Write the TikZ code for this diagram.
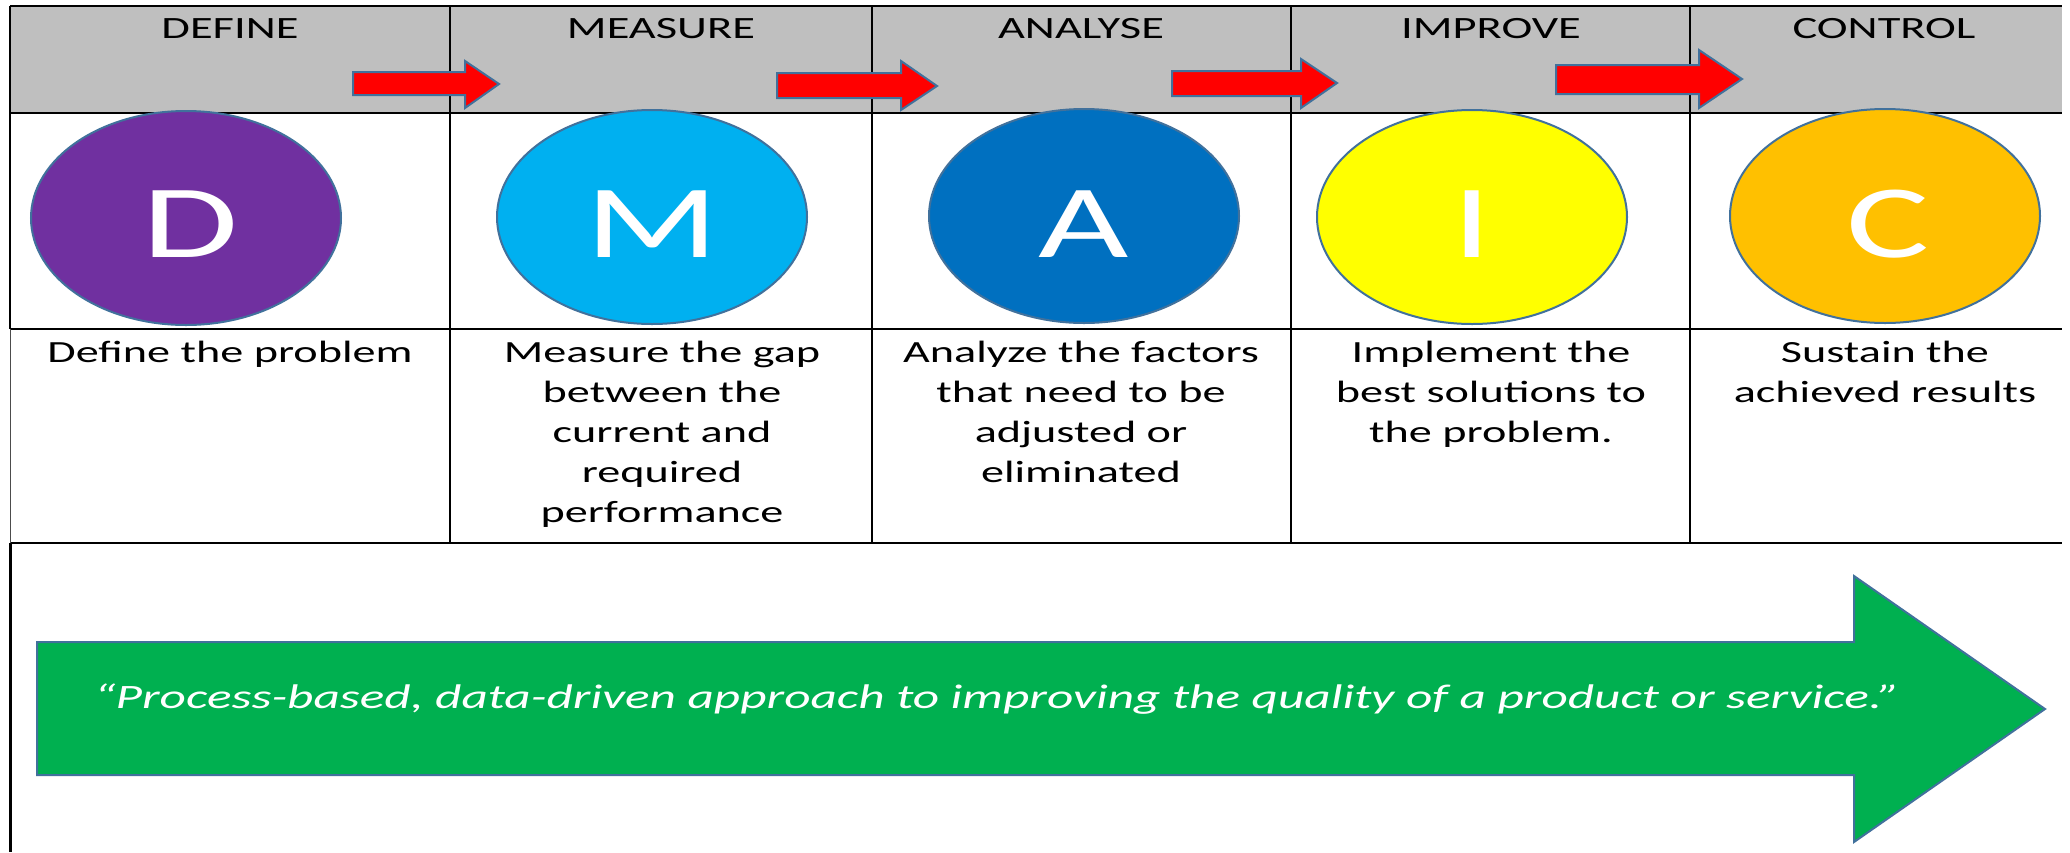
\documentclass[tikz,border=0pt]{standalone}
\usepackage{fontspec}
\setmainfont{Carlito}[FakeStretch=1.5]
\usetikzlibrary{shapes.geometric}
\definecolor{hdrgray}{HTML}{BFBFBF}
\definecolor{edgeblue}{HTML}{41719C}
\definecolor{cD}{HTML}{7030A0}
\definecolor{cM}{HTML}{00B0F0}
\definecolor{cA}{HTML}{0070C0}
\definecolor{cI}{HTML}{FFFF00}
\definecolor{cC}{HTML}{FFC000}
\definecolor{cG}{HTML}{00B050}
\tikzset{
  grid/.style={line width=1.5pt, black},
  phase/.style={ellipse, draw=edgeblue, line width=2pt, minimum width=310pt, minimum height=214pt, inner sep=0pt},
  letter/.style={anchor=base, inner sep=0pt, text=white, font=\fontsize{104}{110}\selectfont},
  hdr/.style={anchor=base, inner sep=0pt, font=\fontsize{31}{36}\selectfont},
  desc/.style={anchor=north, inner sep=0pt, align=center, font=\fontsize{30.8}{40}\selectfont},
  redarrow/.style={fill=red, draw=edgeblue, line width=2pt, line join=miter},
  bigarrow/.style={fill=cG, draw=edgeblue, line width=2pt, line join=miter},
}
\begin{document}
\begin{tikzpicture}[x=1pt,y=-1pt]
\useasboundingbox (0,0) rectangle (2070,852);
\fill[white] (0,0) rectangle (2070,852);
% header band
\fill[hdrgray] (10,6) rectangle (2062,113);
% grid
\draw[grid] (10,6) -- (2062,6);
\draw[grid] (10,113) -- (2062,113);
\draw[grid] (10,329) -- (2062,329);
\draw[grid] (10,543) -- (2062,543);
\foreach \x in {450,872,1291,1690} \draw[grid] (\x,6) -- (\x,543);
\draw[grid] (10,6) -- (10,329);
\draw[line width=0.8pt, black!70] (10,329) -- (10,543);
\draw[line width=3pt, black] (10,543) -- (10,852);
% header labels
\node[hdr] (hD) at (230,38) {DEFINE};
\node[hdr] (hM) at (661,38) {MEASURE};
\node[hdr] (hA) at (1081,38) {ANALYSE};
\node[hdr] (hI) at (1491,38) {IMPROVE};
\node[hdr] (hC) at (1884,38) {CONTROL};
% red arrows
\draw[redarrow] (353,72) -- (465,72) -- (465,61) -- (499,84) -- (465,108) -- (465,95) -- (353,95) -- cycle;
\draw[redarrow] (777,73) -- (901,73) -- (901,61) -- (937,86) -- (901,110) -- (901,98) -- (777,98) -- cycle;
\draw[redarrow] (1172,71) -- (1301,71) -- (1301,59) -- (1337,83) -- (1301,108) -- (1301,96) -- (1172,96) -- cycle;
\draw[redarrow] (1556,65) -- (1699,65) -- (1699,50) -- (1742,79) -- (1699,108) -- (1699,94) -- (1556,94) -- cycle;
% ellipses
\node[phase, fill=cD] (eD) at (186,218) {};
\node[phase, fill=cM] (eM) at (652,217) {};
\node[phase, fill=cA] (eA) at (1084,216) {};
\node[phase, fill=cI] (eI) at (1472,217) {};
\node[phase, fill=cC] (eC) at (1885,216) {};
\node[letter] (lD) at (190,257) {D};
\node[letter] (lM) at (652,257) {M};
\node[letter] (lA) at (1084,257) {A};
\node[letter] (lI) at (1472,257) {I};
\node[letter] (lC) at (1888,257) {C};
% descriptions
\node[desc] (tD) at (230,341) {Define the problem};
\node[desc] (tM) at (662,341) {Measure the gap\\between the\\current and\\required\\performance};
\node[desc] (tA) at (1081,341) {Analyze the factors\\that need to be\\adjusted or\\eliminated};
\node[desc] (tI) at (1491,341) {Implement the\\best solutions to\\the problem.};
\node[desc] (tC) at (1885,341) {Sustain the\\achieved results};
% big green arrow
\draw[bigarrow] (37,642) -- (1854,642) -- (1854,576) -- (2045,709) -- (1854,842) -- (1854,775) -- (37,775) -- cycle;
\node[anchor=base, inner sep=0pt, text=white, font=\fontsize{34.2}{40}\selectfont\itshape] (quote) at (997,708)
  {“Process-based, data-driven approach to improving the quality of a product or service.”};
\end{tikzpicture}
\end{document}
